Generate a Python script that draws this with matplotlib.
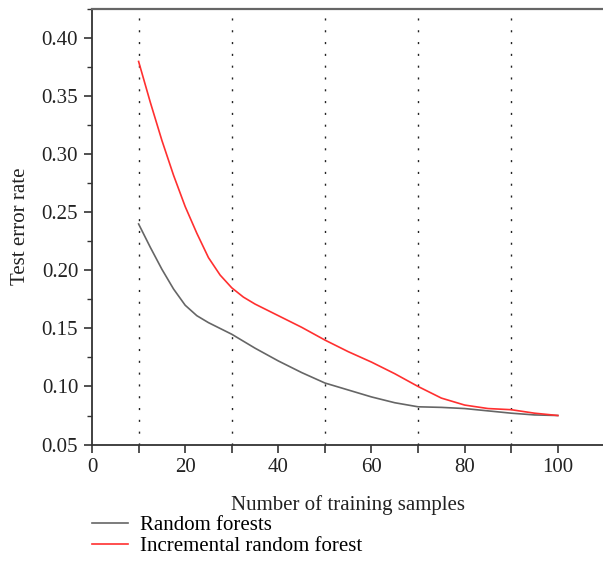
import numpy as np
import matplotlib
matplotlib.use("Agg")
import matplotlib.pyplot as plt
from matplotlib.ticker import MultipleLocator, FixedLocator

plt.rcParams['font.family'] = ['Liberation Serif', 'DejaVu Serif']

# значения
x_inc = [10, 12.5, 15, 17.5, 20, 22.5, 25, 27.5, 30, 32.5, 35, 37.5, 40, 45,
         50, 55, 60, 65, 70, 75, 80, 85, 90, 95, 100]
y_inc = [0.380, 0.345, 0.312, 0.282, 0.255, 0.232, 0.211, 0.196, 0.185, 0.177,
         0.171, 0.166, 0.161, 0.151, 0.140, 0.130, 0.121, 0.111, 0.100, 0.090,
         0.084, 0.081, 0.080, 0.077, 0.075]

x_rf = [10, 12.5, 15, 17.5, 20, 22.5, 25, 27.5, 30, 35, 40, 45, 50, 55, 60,
        65, 70, 75, 80, 85, 90, 95, 100]
y_rf = [0.240, 0.220, 0.201, 0.184, 0.170, 0.161, 0.155, 0.150, 0.145, 0.133,
        0.122, 0.112, 0.103, 0.097, 0.091, 0.086, 0.0825, 0.082, 0.081, 0.079,
        0.077, 0.0755, 0.075]

grid_x = [10, 30, 50, 70, 90]
labels = ["Random forests", "Incremental random forest"]

fig = plt.figure(figsize=(6.03, 5.88), dpi=100)
ax = fig.add_axes([0.1526, 0.244, 0.8474, 0.7415])

l1, = ax.plot(x_rf, y_rf, color='#666666', lw=1.2)
l2, = ax.plot(x_inc, y_inc, color='#ff3030', lw=1.2)

for gx in grid_x:
    ax.axvline(gx, color='#222222', lw=1.0, ls=(0, (1.5, 7)), zorder=0)

ax.set_xlim(0, 109.7)
ax.set_ylim(0.05, 0.4256)
ax.xaxis.set_minor_locator(FixedLocator(grid_x))
ax.yaxis.set_minor_locator(MultipleLocator(0.025))
ax.set_xticks([0, 20, 40, 60, 80, 100])
ax.set_yticks([0.05, 0.10, 0.15, 0.20, 0.25, 0.30, 0.35, 0.40])
ax.set_yticklabels(["%.2f" % v for v in ax.get_yticks()])

ax.spines['right'].set_visible(False)
ax.spines['top'].set_color('#666666')
ax.spines['top'].set_linewidth(1.6)
ax.spines['left'].set_color('#333333')
ax.spines['bottom'].set_color('#333333')
ax.spines['left'].set_linewidth(1.3)
ax.spines['bottom'].set_linewidth(1.3)

ax.tick_params(axis='both', which='major', direction='out', length=6, width=1.2,
               color='#333333', labelsize=15, labelcolor='#222222', pad=4)
ax.tick_params(axis='y', which='minor', direction='out', length=3.5, width=1.0, color='#333333')
ax.tick_params(axis='x', which='minor', direction='out', length=6, width=1.2, color='#333333')

ax.set_xlabel("Number of training samples", fontsize=15, color='#222222', labelpad=13)
ax.set_ylabel("Test error rate", fontsize=15, color='#222222', labelpad=8)

fig.legend([l1, l2], labels, loc='upper left', bbox_to_anchor=(0.139, 0.137),
           frameon=False, fontsize=15, handlelength=1.7, handletextpad=0.6,
           labelspacing=0.05, borderaxespad=0)

fig.savefig("out.png", dpi=100)
